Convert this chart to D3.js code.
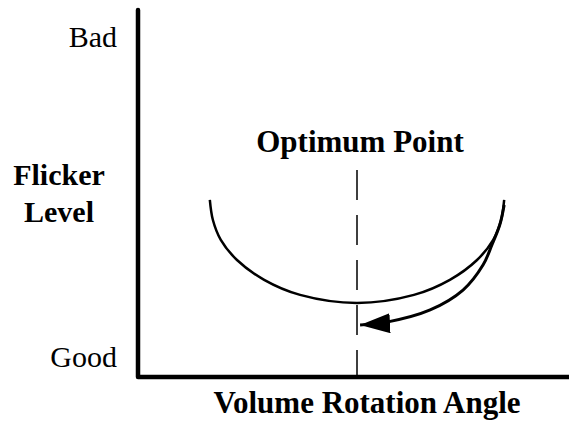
<!DOCTYPE html>
<html>
<head>
<meta charset="utf-8">
<script src="https://cdn.jsdelivr.net/npm/d3@7"></script>
<style>
  body { margin: 0; background: #fff; }
  text { font-family: "Liberation Serif", "Times New Roman", serif; fill: #000; }
</style>
</head>
<body>
<div id="chart"></div>
<script>
// flicker curve (x = rotation angle, y = flicker level)
var curveX = [16.4, 17.1, 18.9, 22.6, 28.8, 37.0, 50.0, 63.0, 71.2, 77.4, 81.1, 82.9, 83.6];
var curveY = [4.91, 4.28, 3.66, 3.03, 2.41, 1.94, 1.69, 1.94, 2.41, 3.03, 3.66, 4.28, 4.91];

// arrow from the right end of the curve down to the optimum
var arrowX = [83.6, 82.6, 80.8, 78.8, 74.2, 66.7, 56.8, 50.7];
var arrowY = [4.75, 4.13, 3.5, 2.88, 2.09, 1.47, 1.09, 1.0];

var optimumX = 50;
var optimumTop = 5.84;

var levelTicks = [0, 10];
var levelLabels = ["Good", "Bad"];

var svgWidth = 569;
var svgHeight = 423;

var svg = d3.select("#chart")
  .append("svg")
  .attr("width", svgWidth)
  .attr("height", svgHeight);

var xScale = d3.scaleLinear()
  .domain([0, 100])
  .range([138, 576]);

var yScale = d3.scaleLinear()
  .domain([-0.625, 10.84])
  .range([377, 10]);

// axes (plain L shape)
svg.append("path")
  .attr("d", d3.line()([[xScale(0), yScale.range()[1]], [xScale(0), yScale.range()[0]], [svgWidth, yScale.range()[0]]]))
  .attr("fill", "none")
  .attr("stroke", "#000")
  .attr("stroke-width", 4.5)
  .attr("stroke-linejoin", "round")
  .attr("stroke-linecap", "round");

// Good / Bad labels
svg.selectAll(".lvl")
  .data(levelTicks)
  .enter()
  .append("text")
  .attr("class", "lvl")
  .attr("x", 117)
  .attr("y", d => yScale(d))
  .attr("dy", "0.35em")
  .attr("text-anchor", "end")
  .style("font-size", "30px")
  .text((d, i) => levelLabels[i]);

// y title
var yTitle = svg.append("text")
  .attr("text-anchor", "middle")
  .style("font-size", "30px")
  .style("font-weight", "bold");
yTitle.append("tspan").attr("x", 59).attr("y", 185).text("Flicker");
yTitle.append("tspan").attr("x", 59).attr("y", 222).text("Level");

// x title
svg.append("text")
  .attr("x", 367)
  .attr("y", 413)
  .attr("text-anchor", "middle")
  .style("font-size", "31px")
  .style("font-weight", "bold")
  .text("Volume Rotation Angle");

// optimum marker
svg.append("line")
  .attr("x1", xScale(optimumX))
  .attr("x2", xScale(optimumX))
  .attr("y1", yScale(optimumTop))
  .attr("y2", yScale.range()[0])
  .attr("stroke", "#000")
  .attr("stroke-width", 1.5)
  .attr("stroke-dasharray", "30,15");

svg.append("text")
  .attr("x", 360)
  .attr("y", 152)
  .attr("text-anchor", "middle")
  .style("font-size", "31px")
  .style("font-weight", "bold")
  .text("Optimum Point");

var line = d3.line()
  .x(d => xScale(d[0]))
  .y(d => yScale(d[1]))
  .curve(d3.curveCatmullRom);

svg.append("path")
  .attr("d", line(d3.zip(curveX, curveY)))
  .attr("fill", "none")
  .attr("stroke", "#000")
  .attr("stroke-width", 2.5);

// arrow head
svg.append("defs").append("marker")
  .attr("id", "head")
  .attr("markerUnits", "userSpaceOnUse")
  .attr("viewBox", "0 0 30 20")
  .attr("markerWidth", 30)
  .attr("markerHeight", 20)
  .attr("refX", 30)
  .attr("refY", 10)
  .attr("orient", "auto")
  .append("path")
  .attr("d", "M0,0L30,10L0,20Z")
  .attr("fill", "#000");

svg.append("path")
  .attr("d", line(d3.zip(arrowX, arrowY)))
  .attr("fill", "none")
  .attr("stroke", "#000")
  .attr("stroke-width", 3)
  .attr("marker-end", "url(#head)");
</script>
</body>
</html>
